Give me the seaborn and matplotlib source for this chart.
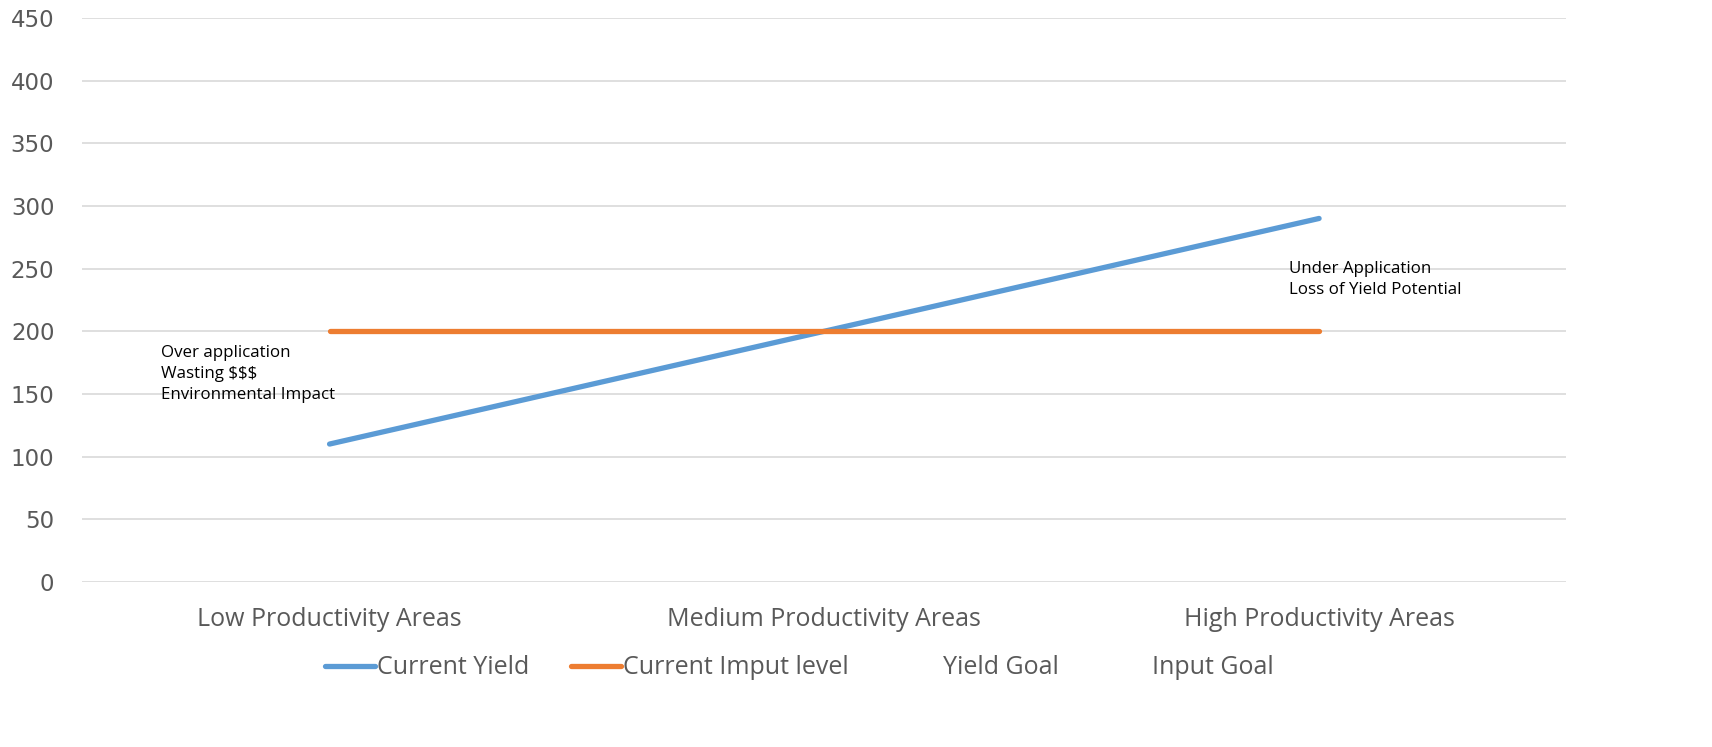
import matplotlib
matplotlib.use("Agg")
import matplotlib.pyplot as plt
from matplotlib.lines import Line2D
import seaborn as sns
import pandas as pd

# Chart data
areas = ["Low Productivity Areas", "Medium Productivity Areas", "High Productivity Areas"]
current_yield = [110, 200, 290]
current_input = [200, 200, 200]
series_names = ["Current Yield", "Current Imput level", "Yield Goal", "Input Goal"]
y_ticks = [0, 50, 100, 150, 200, 250, 300, 350, 400, 450]

df = pd.DataFrame({
    "area": areas * 2,
    "pos": list(range(len(areas))) * 2,
    "value": current_yield + current_input,
    "series": [series_names[0]] * 3 + [series_names[1]] * 3,
})

sns.set_theme(style="white")
plt.rcParams["font.family"] = ["Open Sans", "DejaVu Sans"]

fig = plt.figure(figsize=(17.12, 7.47), dpi=100)
ax = fig.add_axes([0.048, 0.221, 0.867, 0.755])

palette = {series_names[0]: "#5B9BD5", series_names[1]: "#ED7D31"}
sns.lineplot(data=df, x="pos", y="value", hue="series", palette=palette,
             linewidth=3.8, ax=ax, legend=False, solid_capstyle="round")

ax.set_xlim(-0.5, 2.5)
ax.set_ylim(0, 450)
ax.set_yticks(y_ticks)
ax.set_xticks(range(len(areas)))
ax.set_xticklabels(areas, fontsize=18, color="#595959")
ax.tick_params(axis="y", labelsize=16.5, labelcolor="#595959", length=0, pad=20)
ax.tick_params(axis="x", length=0, pad=18)
for lbl in ax.get_yticklabels():
    lbl.set_family("DejaVu Sans")
ax.set_xlabel("")
ax.set_ylabel("")
ax.grid(axis="y", color="#D9D9D9", linewidth=1.2)
ax.set_axisbelow(True)
for s in ax.spines.values():
    s.set_visible(False)

# annotations
ax.text(-0.34, 189, "Over application\nWasting $$$\nEnvironmental Impact",
        fontsize=12.2, color="black", va="top", linespacing=1.4)
ax.text(1.94, 256, "Under Application\nLoss of Yield Potential",
        fontsize=12.2, color="black", va="top", linespacing=1.4)

handles = [
    Line2D([], [], color="#5B9BD5", linewidth=3.8, solid_capstyle="round"),
    Line2D([], [], color="#ED7D31", linewidth=3.8, solid_capstyle="round"),
    Line2D([], [], color="none", linewidth=3.8),
    Line2D([], [], color="none", linewidth=3.8),
]
leg = fig.legend(handles, series_names, loc="center", bbox_to_anchor=(0.467, 0.106),
                 ncol=4, frameon=False, fontsize=18, handlelength=2.0,
                 handletextpad=0.1, columnspacing=1.65)
for t in leg.get_texts():
    t.set_color("#595959")

fig.savefig("out.png", dpi=100)
